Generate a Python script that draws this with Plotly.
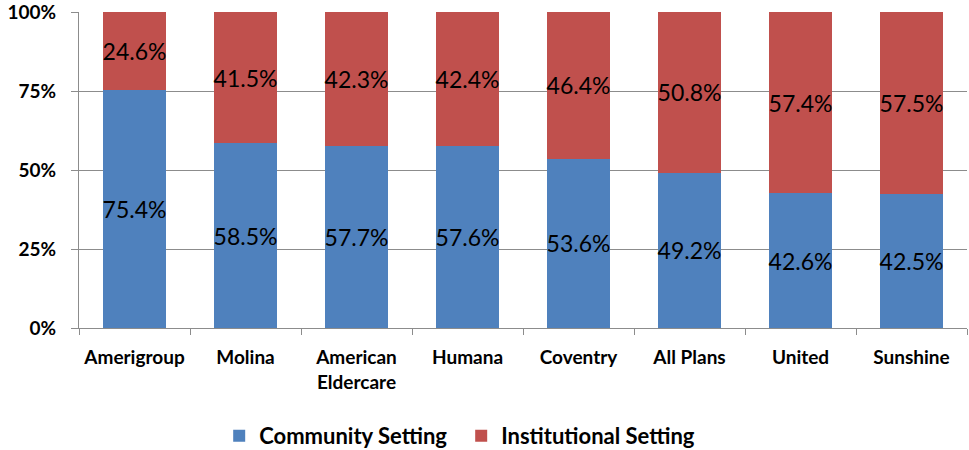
import plotly.graph_objects as go

plans = ["Amerigroup", "Molina", "American<br>Eldercare", "Humana", "Coventry",
         "All Plans", "United", "Sunshine"]
community = [75.4, 58.5, 57.7, 57.6, 53.6, 49.2, 42.6, 42.5]
institutional = [24.6, 41.5, 42.3, 42.4, 46.4, 50.8, 57.4, 57.5]

blue = "#4F81BD"
red = "#C0504D"
font = "Lato"

fig = go.Figure()
for name, vals, col in [("Community Setting", community, blue),
                        ("Institutional Setting", institutional, red)]:
    fig.add_trace(go.Bar(
        x=plans, y=vals, name=name,
        marker=dict(color=col, line=dict(width=0)),
        text=[f"{v:.1f}%" for v in vals],
        textposition="inside", insidetextanchor="middle",
        textangle=0, constraintext="none",
        textfont=dict(family=font, size=23, color="black"),
    ))

fig.update_layout(
    barmode="stack",
    bargap=0.44,
    width=969, height=450,
    margin=dict(l=79, r=2, t=12, b=122, autoexpand=False),
    plot_bgcolor="white", paper_bgcolor="white",
    font=dict(family=font, color="black"),
    showlegend=True,
    legend=dict(orientation="h", xref="container", yref="container",
                x=0.2262, y=0.078, xanchor="left", yanchor="top",
                font=dict(family=font, size=22, weight="bold"),
                itemwidth=30, entrywidth=197, entrywidthmode="pixels",
                traceorder="normal"),
)

fig.update_yaxes(
    range=[0, 100], dtick=25, ticksuffix="%",
    showgrid=True, gridcolor="#8C8C8C", gridwidth=1,
    showline=True, linecolor="#8C8C8C", linewidth=1,
    ticks="outside", ticklen=7, tickcolor="#8C8C8C",
    ticklabelstandoff=11, ticklabeloverflow="allow",
    tickfont=dict(family=font, size=19, weight="bold"),
    zeroline=False,
)
fig.update_xaxes(
    showline=True, linecolor="#8C8C8C", linewidth=1,
    ticks="outside", tickson="boundaries", ticklen=6, tickcolor="#8C8C8C",
    tickfont=dict(family=font, size=19, weight="bold"),
    ticklabelstandoff=12,
)

fig.write_html("out.html", config={"displayModeBar": False},
               post_script="document.body.style.margin='0';")
